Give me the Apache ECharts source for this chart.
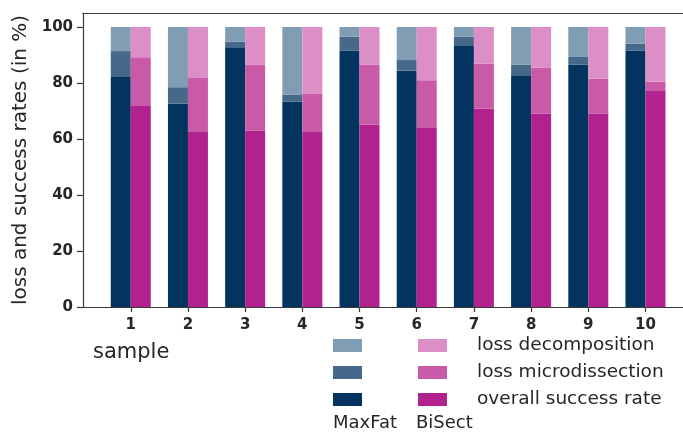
<!DOCTYPE html>
<html>
<head>
<meta charset="utf-8">
<script src="https://cdn.jsdelivr.net/npm/echarts@6/dist/echarts.min.js"></script>
<style>
  html, body { margin: 0; padding: 0; background: #ffffff; }
  #chart { width: 683px; height: 432px; }
</style>
</head>
<body>
<div id="chart"></div>
<script>
// Samples on the x axis and the y tick values
const samples = [1, 2, 3, 4, 5, 6, 7, 8, 9, 10];
const yTicks = [0, 20, 40, 60, 80, 100];

// MaxFat: stacked shares (in %) per sample
const maxfatOverall = [82.4, 72.6, 92.8, 73.4, 91.5, 84.4, 93.5, 82.8, 86.6, 91.5];
const maxfatMicro   = [9.0, 5.9, 2.0, 2.5, 5.1, 3.8, 3.1, 3.8, 2.7, 2.5];
const maxfatDecomp  = [8.6, 21.5, 5.2, 24.1, 3.4, 11.8, 3.4, 13.4, 10.7, 6.0];

// BiSect: stacked shares (in %) per sample
const bisectOverall = [71.8, 62.5, 63.0, 62.5, 65.1, 63.9, 70.8, 69.1, 69.1, 77.1];
const bisectMicro   = [17.4, 19.3, 23.6, 13.8, 21.4, 17.1, 16.2, 16.3, 12.4, 3.4];
const bisectDecomp  = [10.8, 18.2, 13.4, 23.7, 13.5, 19.0, 13.0, 14.6, 18.5, 19.5];

const partLabels = ['loss decomposition', 'loss microdissection', 'overall success rate'];

const FONT = 'DejaVu Sans';
const INK = '#262626';
const AXIS = '#3a3a3a';

// Rows are [share, sample]; the share column comes first so that it is
// the dimension ECharts stacks on.
function rows(values) {
  return samples.map((s, i) => [values[i], s]);
}

function barSeries(name, stack, values, color) {
  return {
    name: name,
    type: 'bar',
    stack: stack,
    barWidth: 20,
    barGap: '0%',
    encode: { x: 1, y: 0 },
    itemStyle: { color: color },
    emphasis: { disabled: true },
    data: rows(values)
  };
}

const series = [
  barSeries('MaxFat overall success rate', 'maxfat', maxfatOverall, '#03345f'),
  barSeries('MaxFat loss microdissection', 'maxfat', maxfatMicro, '#46698a'),
  barSeries('MaxFat loss decomposition', 'maxfat', maxfatDecomp, '#819db4'),
  barSeries('BiSect overall success rate', 'bisect', bisectOverall, '#b2228f'),
  barSeries('BiSect loss microdissection', 'bisect', bisectMicro, '#c85aa8'),
  barSeries('BiSect loss decomposition', 'bisect', bisectDecomp, '#dc8fc6')
];

const legendCommon = {
  orient: 'vertical',
  padding: 0,
  itemWidth: 29,
  itemHeight: 13,
  icon: 'rect',
  selectedMode: false,
  textStyle: { fontFamily: FONT, fontSize: 18.5, color: INK }
};

const chart = echarts.init(document.getElementById('chart'), null, { renderer: 'canvas' });

chart.setOption({
  animation: false,
  backgroundColor: '#ffffff',
  grid: { left: 83, right: 0, top: 13, bottom: 125, containLabel: false },
  xAxis: [
    {
      type: 'value',
      min: 0.165,
      max: 10.656,
      splitLine: { show: false },
      axisLine: { show: true, lineStyle: { color: AXIS, width: 1.2 } },
      axisTick: { show: true, length: 5, customValues: samples, lineStyle: { color: AXIS, width: 1.2 } },
      axisLabel: {
        customValues: samples,
        margin: 11,
        fontFamily: FONT, fontSize: 15, fontWeight: 'bold', color: INK
      }
    },
    {
      type: 'value',
      position: 'top',
      min: 0,
      max: 1,
      splitLine: { show: false },
      axisLine: { show: true, lineStyle: { color: AXIS, width: 1.2 } },
      axisTick: { show: false },
      axisLabel: { show: false }
    }
  ],
  yAxis: {
    type: 'value',
    min: 0,
    max: 105,
    name: 'loss and success rates (in %)',
    nameLocation: 'middle',
    nameGap: 36,
    nameTextStyle: { fontFamily: FONT, fontSize: 20, color: INK },
    splitLine: { show: false },
    axisLine: { show: true, lineStyle: { color: AXIS, width: 1.2 } },
    axisTick: { show: true, length: 6, customValues: yTicks, lineStyle: { color: AXIS, width: 1.2 } },
    axisLabel: {
      customValues: yTicks,
      margin: 10,
      fontFamily: FONT, fontSize: 15, fontWeight: 'bold', color: INK
    }
  },
  legend: [
    Object.assign({}, legendCommon, {
      left: 333,
      top: 339,
      itemGap: 14,
      data: partLabels.map(p => 'MaxFat ' + p),
      formatter: () => ''
    }),
    Object.assign({}, legendCommon, {
      left: 418,
      top: 336,
      itemGap: 8,
      data: partLabels.map(p => 'BiSect ' + p),
      formatter: name => name.replace('BiSect ', ''),
      textStyle: Object.assign({}, legendCommon.textStyle, { padding: [0, 0, 0, 25] })
    })
  ],
  graphic: [
    {
      type: 'text', left: 93, top: 342,
      style: { text: 'sample', font: '21px "DejaVu Sans"', fill: INK }
    },
    {
      type: 'text', left: 333, top: 414,
      style: { text: 'MaxFat', font: '18px "DejaVu Sans"', fill: INK }
    },
    {
      type: 'text', left: 416, top: 414,
      style: { text: 'BiSect', font: '18px "DejaVu Sans"', fill: INK }
    }
  ],
  series: series
});
</script>
</body>
</html>
